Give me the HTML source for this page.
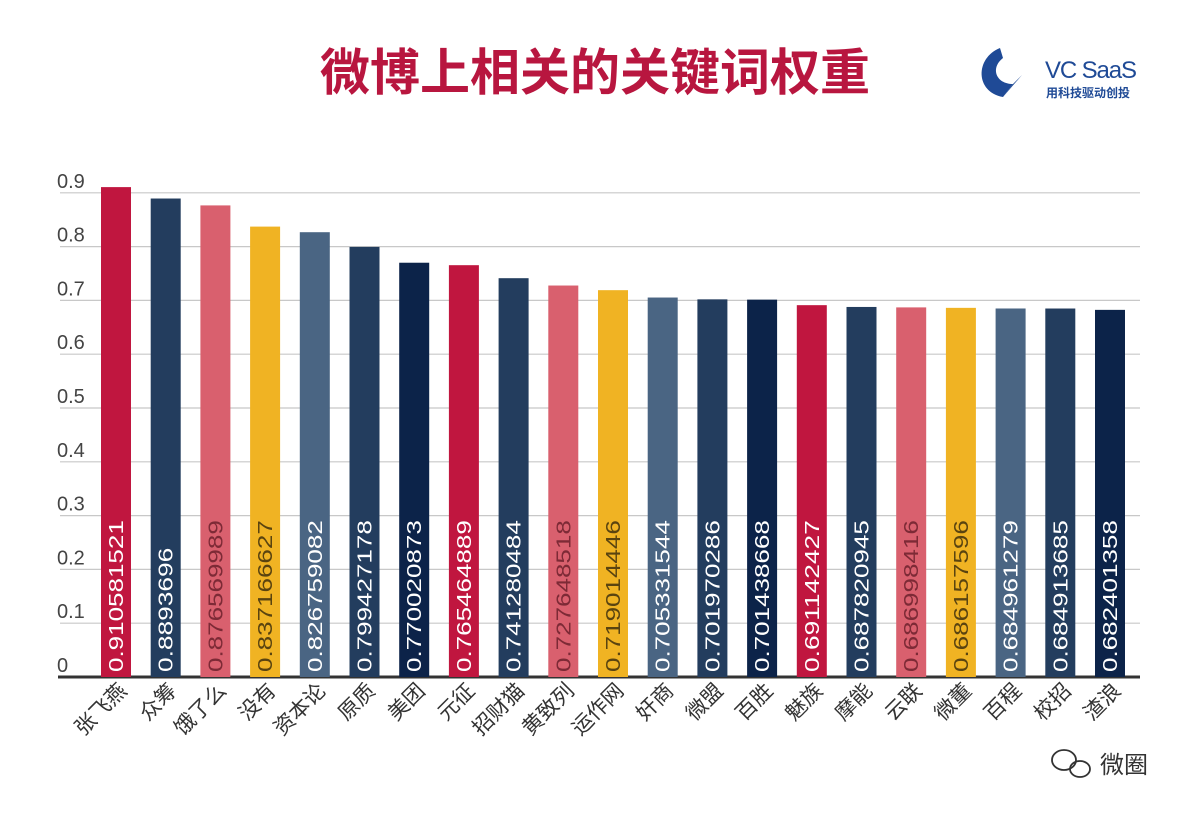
<!DOCTYPE html>
<html><head><meta charset="utf-8"><style>
body{margin:0;background:#fff;width:1200px;height:817px;overflow:hidden;font-family:"Liberation Sans","Noto Sans CJK SC",sans-serif}
</style></head><body>
<svg id="chart" width="1200" height="817" xmlns="http://www.w3.org/2000/svg">
<text x="595" y="90" text-anchor="middle" font-size="50" font-weight="bold" fill="#b8163f" font-family="'Liberation Sans','Noto Sans CJK SC',sans-serif">微博上相关的关键词权重</text>
<g>
<path d="M1000 48 C975 58 975 92 1003 97 L1013 84 C996 84 990 68 1003 58 Z" fill="#1f4a96"/>
<path d="M1013 84 L1022 75 L1003 97 Z" fill="#1f4a96"/>
<text x="1045" y="78" font-size="24" fill="#1f4a96" textLength="92">VC  SaaS</text>
<text x="1046" y="97" font-size="12" font-weight="bold" fill="#1f4a96" font-family="'Noto Sans CJK SC',sans-serif">用科技驱动创投</text>
</g>
<g id="grid"></g><g id="bars"></g><g id="labels"></g>
<text x="1100" y="773" font-size="24" fill="#333" font-family="'Noto Sans CJK SC',sans-serif">微圈</text>
<g fill="none" stroke="#333" stroke-width="1.8"><ellipse cx="1064" cy="760" rx="12" ry="10"/><ellipse cx="1080" cy="769" rx="10" ry="8"/></g>
</svg>
<script>
const categories=["张飞燕","众筹","饿了么","没有","资本论","原质","美团","元征","招财猫","黄致列","运作网","奸商","微盟","百胜","魅族","摩能","云联","微董","百程","校招","渣浪"];
const values=[0.910581521,0.8893696,0.876569989,0.837166627,0.826759082,0.799427178,0.770020873,0.765464889,0.741280484,0.727648518,0.719014446,0.705331544,0.701970286,0.701438668,0.691142427,0.687820945,0.686998416,0.686157596,0.684961279,0.684913685,0.682401358];
const valueLabels=["0.910581521","0.8893696","0.876569989","0.837166627","0.826759082","0.799427178","0.770020873","0.765464889","0.741280484","0.727648518","0.719014446","0.705331544","0.701970286","0.701438668","0.691142427","0.687820945","0.686998416","0.686157596","0.684961279","0.684913685","0.682401358"];
const yTicks=[0,0.1,0.2,0.3,0.4,0.5,0.6,0.7,0.8,0.9];
const palette=["#c0163f","#233d5e","#d9606e","#f0b323","#4a6583","#233d5e","#0c2349"];
const NS="http://www.w3.org/2000/svg";
const y=v=>677-v*538;
const x=i=>116+i*49.7;
function mk(t,a,p){const e=document.createElementNS(NS,t);for(const k in a)e.setAttribute(k,a[k]);p.appendChild(e);return e;}
const G=document.getElementById('grid'),B=document.getElementById('bars'),L=document.getElementById('labels');
yTicks.forEach(t=>{
 const l=mk('line',{x1:60,x2:1140,y1:y(t),y2:y(t),stroke:'#c8c8c8','stroke-width':1.2},G);
 
 
 const tx=mk('text',{x:57,y:y(t)-5,'font-size':20,fill:'#444'},G);
 tx.textContent=String(t);
 
 
});
categories.forEach((c,i)=>{
 const col=palette[i%7];
 const r=mk('rect',{x:x(i)-15,y:y(values[i]),width:30,height:677-y(values[i]),fill:col},B);
 
 
 const dark=(col=="#d9606e"||col=="#f0b323");
 const s=valueLabels[i];
 const vt=mk('text',{x:0,y:0,'font-size':20,fill:dark?(col=="#d9606e"?'#7d2a36':'#5a4410'):'#fff',textLength:s.length*13.8,lengthAdjust:'spacingAndGlyphs',transform:`translate(${x(i)+7},672) rotate(-90)`},L);
 vt.textContent=s;
 
 
 const ct=mk('text',{x:0,y:0,'font-size':21,fill:'#333','text-anchor':'end',transform:`translate(${x(i)+12},692) rotate(-45)`},L);
 ct.textContent=c;
 
 
});
const ax=mk('line',{x1:58,x2:1140,y1:677,y2:677,stroke:'#333','stroke-width':3},G);


</script>
</body></html>
